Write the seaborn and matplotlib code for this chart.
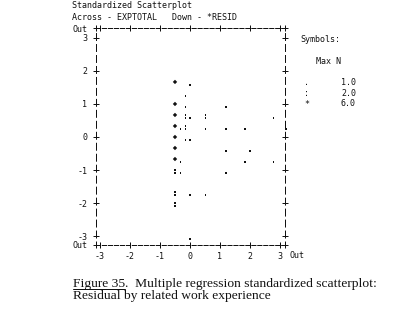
import matplotlib
matplotlib.use("Agg")
import matplotlib.pyplot as plt
from matplotlib.path import Path
from matplotlib.markers import MarkerStyle
from matplotlib.lines import Line2D
import seaborn as sns
import pandas as pd

# ---------------- data ----------------
# x: standardized EXPTOTAL (across), y: standardized residual (down)
x_vals = [-0.5, 0.0,
          -0.15,
          -0.5, -0.15, 1.2,
          -0.5, -0.15, 0.0, 0.52, 2.78,
          -0.5, -0.32, -0.15, 0.52, 1.2, 1.83, 3.2,
          -0.5, -0.15, 0.0,
          -0.5, 1.2, 2.0,
          -0.5, -0.32, 1.83, 2.78,
          -0.5, -0.32, 1.2,
          -0.5, 0.0, 0.52,
          -0.5,
          0.0]
y_vals = [1.667, 1.667,
          1.333,
          1.0, 1.0, 1.0,
          0.667, 0.667, 0.667, 0.667, 0.667,
          0.333, 0.333, 0.333, 0.333, 0.333, 0.333, 0.333,
          0.0, 0.0, 0.0,
          -0.333, -0.333, -0.333,
          -0.667, -0.667, -0.667, -0.667,
          -1.0, -1.0, -1.0,
          -1.667, -1.667, -1.667,
          -2.0,
          -3.0]
symbols = ['*', '.',
           '.',
           '*', '.', '.',
           '*', ':', '.', ':', '.',
           '*', '.', ':', '.', '.', '.', '.',
           '*', '.', '.',
           '*', '.', '.',
           '*', '.', '.', '.',
           ':', '.', '.',
           ':', '.', '.',
           ':',
           '.']

x_ticks = [-3, -2, -1, 0, 1, 2, 3]
y_ticks = [-3, -2, -1, 0, 1, 2, 3]
x_range = (-3.133, 3.167)
y_range = (-3.27, 3.30)
out_label = "Out"
legend_symbols = ['.', ':', '*']
legend_maxn = ['1.0', '2.0', '6.0']
title_line1 = "Standardized Scatterplot"
title_line2 = "Across - EXPTOTAL   Down - *RESID"
caption_fig = "Figure 35"
caption_rest1 = ".  Multiple regression standardized scatterplot:"
caption_line2 = "Residual by related work experience"

df = pd.DataFrame({"x": x_vals, "y": y_vals, "sym": symbols})

# ---------------- style ----------------
sns.set_theme(style="white")
plt.rcParams["font.family"] = ["DejaVu Sans Mono", "DejaVu Sans"]
plt.rcParams["lines.scale_dashes"] = False
INK = "#111111"
W, H = 410, 316

fig = plt.figure(figsize=(W / 100, H / 100), dpi=100)
fig.patch.set_facecolor("white")
ax = fig.add_axes([96 / W, 1 - 245 / H, (285 - 96) / W, (245 - 28) / H])
ax.set_facecolor("white")


def sq(cx, cy, h):
    return [(cx - h, cy - h), (cx + h, cy - h), (cx + h, cy + h), (cx - h, cy + h), (cx - h, cy - h)]


def sq_codes():
    return [Path.MOVETO, Path.LINETO, Path.LINETO, Path.LINETO, Path.CLOSEPOLY]


dot_path = Path(sq(0, -0.76, 0.24), sq_codes())
colon_path = Path(sq(0, 0, 0.24) + sq(0, -0.76, 0.24), sq_codes() + sq_codes())
marker_map = {".": MarkerStyle(dot_path), ":": MarkerStyle(colon_path), "*": MarkerStyle("D")}
size_map = {".": 28, ":": 28, "*": 5}

for s in [".", ":", "*"]:
    sub = df[df["sym"] == s]
    sns.scatterplot(data=sub, x="x", y="y", ax=ax, marker=marker_map[s], s=size_map[s],
                    color=INK, edgecolor="none", linewidth=0, clip_on=False, legend=False)

ax.set_xlim(*x_range)
ax.set_ylim(*y_range)
ax.set_xlabel("")
ax.set_ylabel("")

ax.set_xticks([x_range[0]] + x_ticks + [x_range[1]])
ax.set_xticklabels([""] + [str(t) for t in x_ticks] + [""])
ax.set_yticks([y_range[0]] + y_ticks + [y_range[1]])
ax.set_yticklabels([out_label] + [str(t) for t in y_ticks] + [out_label])

ax.tick_params(axis="both", which="both", direction="inout", length=4.3, width=0.72,
               color=INK, labelsize=6, labelcolor=INK, top=True, right=True,
               bottom=True, left=True)
ax.tick_params(axis="y", pad=4)
ax.tick_params(axis="x", pad=3)

for side in ["left", "right"]:
    sp = ax.spines[side]
    sp.set_visible(True)
    sp.set_color(INK)
    sp.set_linewidth(0.72)
    sp.set_linestyle((2.5, (5.0, 2.9)))
for side in ["top", "bottom"]:
    sp = ax.spines[side]
    sp.set_visible(True)
    sp.set_color(INK)
    sp.set_linewidth(0.72)
    sp.set_linestyle((0, (3.0, 1.3)))

ax.annotate(out_label, xy=(1, 0), xycoords="axes fraction", xytext=(12, -10),
            textcoords="offset pixels", ha="center", va="center", fontsize=6, color=INK)

# header
fig.text(72 / W, 1 - 6 / H, title_line1, fontsize=6, color=INK, ha="left", va="center")
fig.text(72 / W, 1 - 17 / H, title_line2, fontsize=6, color=INK, ha="left", va="center")

# symbols legend
fig.text(300 / W, 1 - 39 / H, "Symbols:", fontsize=6, color=INK, ha="left", va="center")
fig.text(316 / W, 1 - 61 / H, "Max N", fontsize=6, color=INK, ha="left", va="center")
for i, (sy, mn) in enumerate(zip(legend_symbols, legend_maxn)):
    yy = 1 - (82 + 11 * i) / H
    fig.text(304 / W, yy, sy, fontsize=6, color=INK, ha="left", va="center")
    fig.text(356 / W, yy, mn, fontsize=6, color=INK, ha="right", va="center")

# caption (serif, with underlined figure number)
serif = ["Liberation Serif", "DejaVu Serif"]
cap_fs = 9.7
cap_y1 = 1 - 283.5 / H
cap_y2 = 1 - 296.5 / H
t1 = fig.text(73 / W, cap_y1, caption_fig, fontsize=cap_fs, family=serif, color=INK,
              ha="left", va="center")
fig.canvas.draw()
r = fig.canvas.get_renderer()
bb = t1.get_window_extent(r)
x_end = bb.x1 / W
fig.text(x_end, cap_y1, caption_rest1, fontsize=cap_fs, family=serif, color=INK,
         ha="left", va="center")
uy = 1 - 288.5 / H
fig.add_artist(Line2D([bb.x0 / W, bb.x1 / W], [uy, uy], color=INK, lw=0.72,
                      transform=fig.transFigure))
fig.text(73 / W, cap_y2, caption_line2, fontsize=cap_fs, family=serif, color=INK,
         ha="left", va="center")

fig.savefig("out.png", dpi=100, facecolor="white")
